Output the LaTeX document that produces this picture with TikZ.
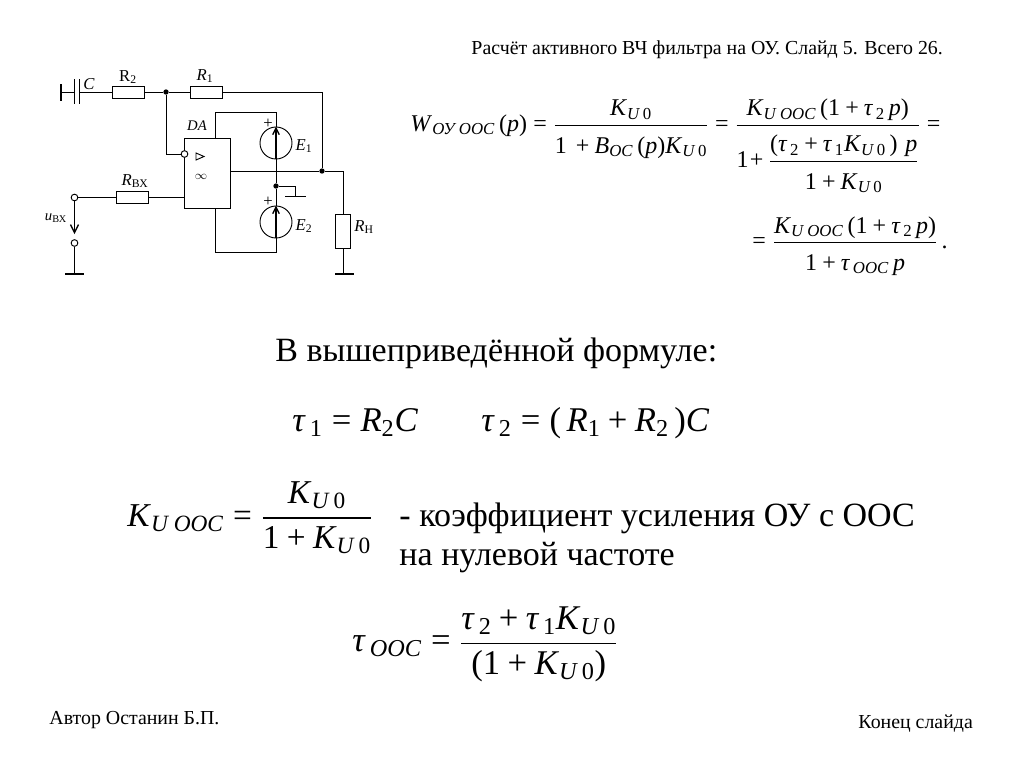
\documentclass[tikz,border=0pt]{standalone}
\usepackage{amsmath}
\usepackage{fontspec}
\setmainfont{Liberation Serif}
\usetikzlibrary{arrows.meta,positioning,shapes,calc}

% italic letters of the text font inside formulas
\newcommand{\vi}[1]{\text{\textit{#1}}}
\newcommand{\vr}[1]{\text{#1}}
\newcommand{\eqs}{\mathrel{\vr{=}}}
\newcommand{\pls}{\mathbin{\vr{+}}}
\newcommand{\lpr}{\mathopen{\vr{(}}}
\newcommand{\rpr}{\mathclose{\vr{)}}}
\newcommand{\one}{\vr{1}}
\newcommand{\dstr}{\rule{0pt}{1.02em}}
\newcommand{\nstr}{\rule{0pt}{0.95em}}
\newcommand{\Kuz}{\vi{K}_{\vi{U}\,\vr{0}}}
\newcommand{\Kuo}{\vi{K}_{\vi{U OOC}}}
\newcommand{\tauv}[1]{\vi{τ}_{\,#1}}

\begin{document}
\begin{tikzpicture}[x=0.75pt,y=-0.75pt,line width=0.7pt,
    res/.style={draw,rectangle,inner sep=0pt,minimum width=24.5pt,minimum height=9pt},
    resv/.style={draw,rectangle,inner sep=0pt,minimum width=11.5pt,minimum height=26pt},
    src/.style={draw,circle,inner sep=0pt,minimum size=24pt},
    pin/.style={draw,circle,fill=white,inner sep=0pt,minimum size=5pt},
    dot/.style={circle,fill=black,inner sep=0pt,minimum size=4pt},
    lbl/.style={inner sep=0pt,font=\fontsize{12.5}{14}\selectfont},
    title/.style={inner sep=0pt,anchor=west,font=\fontsize{14.9}{17}\selectfont},
    big/.style={inner sep=0pt,anchor=west,font=\fontsize{25.5}{30}\selectfont},
    eqn/.style={inner sep=0pt,anchor=west,font=\fontsize{18}{21}\selectfont},
    eqnbig/.style={inner sep=0pt,anchor=west,font=\fontsize{26}{30}\selectfont},
    bus/.style={line width=1.5pt}]
\useasboundingbox (0,0) rectangle (1024,768);

% Titles
\node[title] (head) at (471,50) {Расчёт активного ВЧ фильтра на ОУ. Слайд 5. Всего 26.};
\node[title] (author) at (49,720) {Автор Останин Б.П.};
\node[title] (endnote) at (858,724) {Конец слайда};

% Feedback branch
\coordinate (gndc) at (61,92);
\coordinate (capa) at (74,92);
\coordinate (capb) at (79,92);
\node[res] (r2) at (128.5,92) {};
\node[dot] (jfb) at (166,92) {};
\node[res] (r1) at (206.5,92) {};
\node[dot] (jout) at (322,171) {};
\draw[bus] (61,84) -- (61,101);
\draw (74,79) -- (74,104) (79,79) -- (79,104);
\draw (gndc) -- (capa) (capb) -- (r2) (r2) -- (jfb) -- (r1);
\draw (r1) -| (jout);

% Op amp
\node[draw,rectangle,inner sep=0pt,minimum width=34.5pt,minimum height=52pt] (da) at (207,173.5) {};
\node[pin] (inv) at (184.5,154) {};
\draw (jfb) |- (inv);
\draw (196,153) -- (204,156.5) -- (196,160) -- cycle;
\node[lbl] (inf) at (201,176.5) {\fontsize{9}{9}\selectfont$\infty$};
\node[lbl,font=\fontsize{11}{13}\selectfont] (dal) at (197,126) {\textit{DA}};

% Input
\node[pin] (inp) at (74.5,197.5) {};
\node[res] (rbx) at (132.5,197.5) {};
\node[pin] (inn) at (74.5,243) {};
\coordinate (gndi) at (74.5,274);
\draw (inp) -- (rbx);
\draw (rbx) -- (rbx -| da.west);
\draw[-{Straight Barb[length=6pt,width=6pt]},line width=1pt] (inp) -- (74.5,234);
\draw (inn) -- (gndi);
\draw[bus] (65,274) -- (84,274);

% Supplies
\node[src] (e1) at (276,143) {};
\node[src] (e2) at (276,222) {};
\node[dot] (jmid) at (276,186) {};
\coordinate (gndm) at (295,196);
\coordinate (topv) at (215,112);
\coordinate (botv) at (215,252);
\draw (215,139) -- (topv) -| (e1);
\draw (215,208) -- (botv) -| (e2);
\draw (e1) -- (jmid) -- (e2);
\draw (jmid) -| (gndm);
\draw (285,196) -- (306,196);
\foreach \s in {e1,e2}
  \draw[-{Straight Barb[length=5pt,width=5pt]},line width=1pt] (\s.south) -- (\s.north);
\node[lbl] (pe1) at (268,124) {+};
\node[lbl] (pe2) at (268,202) {+};

% Load
\node[resv] (rn) at (343,231.5) {};
\coordinate (gndl) at (343,274);
\draw (da.east |- jout) -- (jout) -| (rn);
\draw (rn) -- (gndl);
\draw[bus] (335,274) -- (354,274);

% Circuit labels
\node[lbl] (lc) at (89,84) {\textit{C}};
\node[lbl] (lr2) at (128,77) {R$_{\text{2}}$};
\node[lbl] (lr1) at (205,76) {\textit{R}$_{\text{1}}$};
\node[lbl] (lrb) at (135,181) {\textit{R}$_{\text{ВХ}}$};
\node[lbl] (le1) at (304,146) {\textit{E}$_{\text{1}}$};
\node[lbl] (le2) at (304,226) {\textit{E}$_{\text{2}}$};
\node[lbl] (lrn) at (364,227) {\textit{R}$_{\text{Н}}$};
\node[lbl,font=\fontsize{11}{13}\selectfont] (lu) at (56,218) {\textit{u}$_{\text{ВХ}}$};

% Transfer function
\node[eqn] (wout) at (410,146) {$\displaystyle \vi{W}_{\vi{ОУ OOC}}\,\lpr\vi{p}\rpr\eqs
  \frac{\Kuz}{\dstr\one\,\pls \vi{B}_{\vi{OC}}\,\lpr\vi{p}\rpr\Kuz}\eqs
  \frac{\Kuo\,\lpr\one\pls \tauv{\vr{2}}\,\vi{p}\rpr}{\one\!\pls\dfrac{\nstr\lpr\tauv{\vr{2}}\pls\tauv{\vr{1}}\Kuz\,\rpr\,\,\vi{p}}{\dstr\one\pls\Kuz}}\eqs$};
\node[eqn] (wend) at (752,246) {$\displaystyle \eqs\frac{\Kuo\,\lpr\one\pls \tauv{\vr{2}}\,\vi{p}\rpr}{\dstr\one\pls\tauv{\vi{OOC}}\,\vi{p}}\,\vr{.}$};

% Explanations
\node[big] (where) at (275,353) {В вышеприведённой формуле:};
\node[eqnbig] (tau1) at (292,423) {$\tauv{\vr{1}}\eqs\vi{R}_{\vr{2}}\vi{C}$};
\node[eqnbig] (tau2) at (481,423) {$\tauv{\vr{2}}\eqs\lpr\,\vi{R}_{\vr{1}}\pls\vi{R}_{\vr{2}}\,\rpr\vi{C}$};
\node[eqnbig,font=\fontsize{25}{30}\selectfont] (kuo) at (127,518) {$\displaystyle \Kuo\eqs\frac{\Kuz}{\one\pls\Kuz}$};
\node[big] (kuot) at (399,518) {- коэффициент усиления ОУ с ООС};
\node[big] (kuob) at (399,558) {на нулевой частоте};
\node[eqnbig] (tauo) at (352,644) {$\displaystyle \tauv{\vi{OOC}}\eqs\frac{\tauv{\vr{2}}\pls\tauv{\vr{1}}\Kuz}{\lpr\one\pls\Kuz\rpr}$};
\end{tikzpicture}
\end{document}
